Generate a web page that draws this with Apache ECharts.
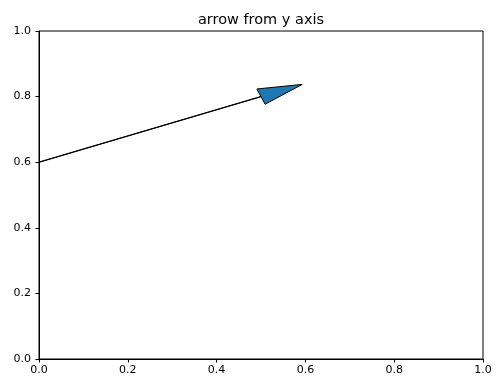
<!DOCTYPE html>
<html>
<head>
<meta charset="utf-8">
<script src="https://cdn.jsdelivr.net/npm/echarts@6/dist/echarts.min.js"></script>
<style>html,body{margin:0;padding:0;background:#fff}#c{width:500px;height:388px}</style>
</head>
<body>
<div id="c"></div>
<script>
var titleText = 'arrow from y axis';
var xTicks = [0, 0.2, 0.4, 0.6, 0.8, 1.0];
var yTicks = [0, 0.2, 0.4, 0.6, 0.8, 1.0];
var arrowStart = [0, 0.6];
var arrowDelta = [0.5, 0.2];
var arrowHeadWidth = [0.05];
var arrowHeadLength = [0.1];
var arrowLineWidth = [0.001];

var chart = echarts.init(document.getElementById('c'), null, {renderer: 'canvas'});
var FONT = 'DejaVu Sans';

function arrowPolygon() {
  var x = arrowStart[0], y = arrowStart[1];
  var dx = arrowDelta[0], dy = arrowDelta[1];
  var L = Math.sqrt(dx * dx + dy * dy);
  var ux = dx / L, uy = dy / L;
  var px = -uy, py = ux;
  var hw = arrowHeadWidth[0] / 2, hl = arrowHeadLength[0], w = arrowLineWidth[0] / 2;
  var ex = x + dx, ey = y + dy;
  return [
    [x + px * w, y + py * w],
    [ex + px * w, ey + py * w],
    [ex + px * hw, ey + py * hw],
    [ex + ux * hl, ey + uy * hl],
    [ex - px * hw, ey - py * hw],
    [ex - px * w, ey - py * w],
    [x - px * w, y - py * w]
  ];
}

var axisCommon = {
  min: 0, max: 1, interval: 0.2,
  axisLine: {show: true, onZero: false, lineStyle: {color: '#000', width: 1}},
  axisTick: {show: true, length: 3.5, inside: false, lineStyle: {color: '#000'}},
  splitLine: {show: false},
  axisLabel: {color: '#000', fontFamily: FONT, fontSize: 11, formatter: function (v) { return v.toFixed(1); }}
};

chart.setOption({
  animation: false,
  title: {
    text: titleText, left: 256, top: 8, textAlign: 'center',
    textStyle: {fontFamily: FONT, fontSize: 14.5, fontWeight: 'normal', color: '#000'}
  },
  grid: {left: 39, right: 17, top: 31, bottom: 29, show: true, borderColor: '#000', borderWidth: 1, backgroundColor: 'transparent'},
  xAxis: Object.assign({type: 'value', position: 'bottom'}, axisCommon, {axisLabel: Object.assign({}, axisCommon.axisLabel, {margin: 6})}),
  yAxis: Object.assign({type: 'value', position: 'left'}, axisCommon, {axisLabel: Object.assign({}, axisCommon.axisLabel, {margin: 8})}),
  series: [{
    type: 'custom',
    coordinateSystem: 'cartesian2d',
    data: [[arrowStart[0], arrowStart[1]]],
    clip: false,
    renderItem: function (params, api) {
      var pts = arrowPolygon().map(function (p) { return api.coord(p); });
      return {
        type: 'polygon',
        shape: {points: pts},
        style: {fill: '#1f77b4', stroke: '#000', lineWidth: 1, lineJoin: 'miter'}
      };
    }
  }]
});
</script>
</body>
</html>
